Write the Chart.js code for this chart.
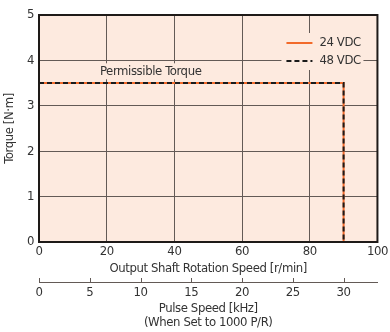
<!DOCTYPE html>
<html>
<head>
<meta charset="utf-8">
<script src="https://cdn.jsdelivr.net/npm/chart.js@4"></script>
<style>
  html, body { margin: 0; padding: 0; background: #fff; }
  #wrap { width: 390px; height: 332px; }
</style>
</head>
<body>
<div id="wrap"><canvas id="torque-chart"></canvas></div>
<script>
// speed-torque characteristic
var speeds = [0, 90, 90];            // r/min
var torque24 = [3.5, 3.5, 0];        // N·m
var torque48 = [3.5, 3.5, 0];
var speedTicks = [0, 20, 40, 60, 80, 100];
var pulseTicks = [0, 5, 10, 15, 20, 25, 30];   // kHz
var torqueTicks = [0, 1, 2, 3, 4, 5];
var noteText = "Permissible Torque";
var noteAt = { x: 33, y: 3.76 };

var FONT = "'DejaVu Sans Condensed', 'Liberation Sans', sans-serif";
var TEXT = "#333";
var GRID = "#635a56";
var PEACH = "#fdeadf";

function points(ys) {
  return speeds.map(function (s, i) { return { x: s, y: ys[i] }; });
}

function tighten(chart) {
  // narrower text, closer to the condensed face of the original
  chart.ctx.letterSpacing = "-0.4px";
}

// peach plot area, frame, note, legend
var decor = {
  id: "decor",
  beforeUpdate: tighten,
  beforeLayout: tighten,
  beforeDraw: function (chart) {
    tighten(chart);
    var a = chart.chartArea, ctx = chart.ctx;
    ctx.save();
    ctx.fillStyle = PEACH;
    ctx.fillRect(a.left, a.top, a.right - a.left, a.bottom - a.top);
    ctx.restore();
  },
  beforeDatasetsDraw: function (chart) {
    var ctx = chart.ctx, sx = chart.scales.x, sy = chart.scales.y;
    ctx.save();
    ctx.font = "13px " + FONT;
    ctx.textBaseline = "middle";
    ctx.textAlign = "center";
    // note text with background
    var nx = sx.getPixelForValue(noteAt.x), ny = sy.getPixelForValue(noteAt.y);
    var w = ctx.measureText(noteText).width;
    ctx.fillStyle = PEACH;
    ctx.fillRect(nx - w / 2 - 3, ny - 8, w + 6, 16);
    ctx.fillStyle = TEXT;
    ctx.fillText(noteText, nx, ny);

    // legend
    var a = chart.chartArea;
    var lx = a.right - 96, ly = a.top + 18;
    ctx.fillStyle = PEACH;
    ctx.fillRect(lx, ly, 82, 37);
    chart.data.datasets.forEach(function (ds, i) {
      var y = ly + 10 + i * 18;
      ctx.strokeStyle = ds.borderColor;
      ctx.lineWidth = 2;
      ctx.setLineDash(ds.borderDash || []);
      ctx.beginPath();
      ctx.moveTo(lx + 5, y);
      ctx.lineTo(lx + 31, y);
      ctx.stroke();
      ctx.setLineDash([]);
      ctx.fillStyle = TEXT;
      ctx.textAlign = "left";
      ctx.fillText(ds.label, lx + 38, y);
    });
    ctx.restore();
  },
  afterDraw: function (chart) {
    var a = chart.chartArea, ctx = chart.ctx;
    ctx.save();
    ctx.strokeStyle = "#1e1a18";
    ctx.lineWidth = 2;
    ctx.strokeRect(a.left, a.top, a.right - a.left, a.bottom - a.top);
    // upward ticks on the pulse speed axis
    var s2 = chart.scales.x2;
    ctx.strokeStyle = GRID;
    ctx.lineWidth = 1;
    s2.ticks.forEach(function (t) {
      var px = Math.round(s2.getPixelForValue(t.value)) + 0.5;
      ctx.beginPath();
      ctx.moveTo(px, s2.top);
      ctx.lineTo(px, s2.top - 4);
      ctx.stroke();
    });
    ctx.restore();
  }
};

new Chart(document.getElementById("torque-chart"), {
  type: "line",
  data: {
    datasets: [
      {
        label: "24 VDC",
        data: points(torque24),
        borderColor: "#f26a2a",
        borderWidth: 2,
        pointRadius: 0,
        fill: false,
        order: 1
      },
      {
        label: "48 VDC",
        data: points(torque48),
        borderColor: "#1a1a1a",
        borderWidth: 2,
        borderDash: [5, 3],
        pointRadius: 0,
        fill: false,
        order: 0
      }
    ]
  },
  options: {
    responsive: true,
    maintainAspectRatio: false,
    animation: false,
    layout: { padding: { left: 0, right: 12, top: 15, bottom: 0 } },
    plugins: {
      legend: { display: false },
      tooltip: { enabled: false }
    },
    scales: {
      x: {
        type: "linear",
        position: "bottom",
        min: 0, max: 100,
        afterBuildTicks: function (s) { s.ticks = speedTicks.map(function (v) { return { value: v }; }); },
        afterFit: function (s) { s.height = 40; },
        grid: { color: GRID, lineWidth: 1, drawTicks: false },
        border: { display: false },
        ticks: { color: TEXT, font: { family: FONT, size: 13 }, padding: 2, maxRotation: 0 },
        title: {
          display: true,
          text: "Output Shaft Rotation Speed [r/min]",
          color: TEXT,
          font: { family: FONT, size: 13 },
          padding: { top: 0, bottom: 6 }
        }
      },
      x2: {
        type: "linear",
        position: "bottom",
        min: 0, max: 100 / 3,
        afterBuildTicks: function (s) { s.ticks = pulseTicks.map(function (v) { return { value: v }; }); },
        afterFit: function (s) { s.height = 50; },
        grid: { display: true, drawOnChartArea: false, drawTicks: false, color: GRID },
        border: { display: true, color: GRID, width: 1 },
        ticks: { color: TEXT, font: { family: FONT, size: 13 }, padding: 3, maxRotation: 0 },
        title: {
          display: true,
          text: ["Pulse Speed [kHz]", "(When Set to 1000 P/R)"],
          color: TEXT,
          font: { family: FONT, size: 13, lineHeight: 1.1 },
          padding: { top: 0, bottom: 2 }
        }
      },
      y: {
        type: "linear",
        min: 0, max: 5,
        afterBuildTicks: function (s) { s.ticks = torqueTicks.map(function (v) { return { value: v }; }); },
        afterFit: function (s) { s.width = 39; },
        grid: { color: GRID, lineWidth: 1, drawTicks: false },
        border: { display: false },
        ticks: { color: TEXT, font: { family: FONT, size: 13 }, padding: 5 },
        title: {
          display: true,
          text: "Torque [N·m]",
          color: TEXT,
          font: { family: FONT, size: 13 },
          padding: { top: 2, bottom: 0 }
        }
      }
    }
  },
  plugins: [decor]
});
</script>
</body>
</html>
